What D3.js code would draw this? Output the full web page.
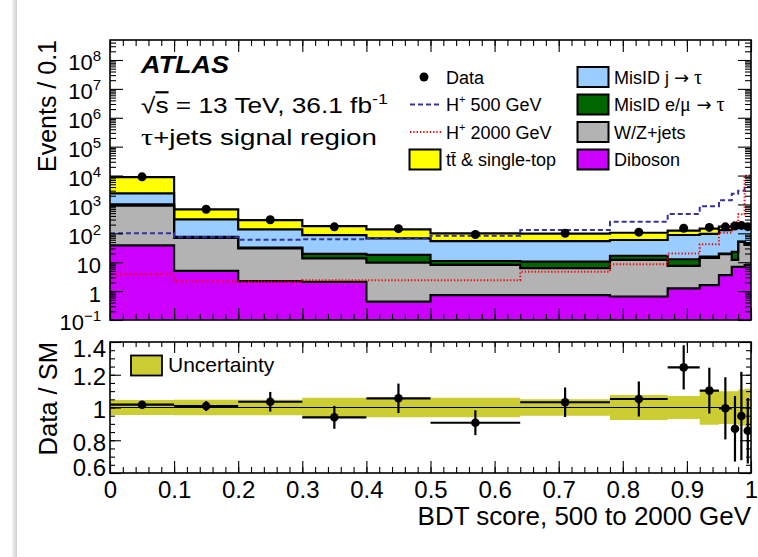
<!DOCTYPE html>
<html><head><meta charset="utf-8">
<script src="https://cdn.jsdelivr.net/npm/d3@7"></script>
<style>
body{margin:0;background:#fff}
svg{display:block}
text{font-family:"Liberation Sans",Arial,Helvetica,sans-serif;fill:#000}
</style>
</head><body>
<svg id="c" width="758" height="557"></svg>
<script>
// ---------------- data ----------------
const binEdges = [0, 0.1, 0.2, 0.3, 0.4, 0.5, 0.64, 0.78, 0.87, 0.92, 0.95, 0.97, 0.98, 0.99, 1.0];
// background components (events per bin)
const diboson = [38, 5.0, 2.2, 2.1, 0.43, 0.73, 0.73, 0.65, 1.25, 1.6, 3.6, 6.9, 6.9, 8];
const wzjets  = [862, 65, 27.8, 11.5, 9.2, 7.3, 5.5, 11.4, 6.2, 12.4, 15.4, 5.1, 44, 32];
const misidE  = [100, 6, 2, 5.9, 8.2, 3, 4.3, 4.7, 5.2, 1.5, 1, 11, 1, 5];
const misidJ  = [1400, 229, 106, 67.5, 49, 43, 43.5, 42, 75, 80.5, 110, 137, 108, 105];
const ttbar   = [6400, 375, 147, 91, 71, 46, 44, 46, 37, 49, 40, 45, 35, 40];
const dataEvents = [9000, 680, 295, 168, 145, 91, 101, 110, 150, 160, 168, 180, 188, 170];
const hp500  = [100, 73, 60, 62, 67, 82, 130, 250, 470, 870, 1400, 2350, 3000, 4000];
const hp2000 = [3.8, 2.2, 2.1, 2.4, 2.4, 2.4, 4.7, 8.5, 20, 42, 105, 240, 460, 10000];
// ratio panel
const ratioValues = [1.017, 1.009, 1.035, 0.94, 1.056, 0.907, 1.032, 1.052, 1.245, 1.103, 0.995, 0.87, 0.948, 0.858];
const ratioErrors = [0.012, 0.03, 0.06, 0.07, 0.09, 0.076, 0.09, 0.107, 0.135, 0.14, 0.19, 0.2, 0.27, 0.2];
const uncHalfWidth = [0.046, 0.047, 0.048, 0.06, 0.06, 0.06, 0.05, 0.076, 0.07, 0.105, 0.1, 0.1, 0.11, 0.115];
// ticks
const xMajorTicks = [0, 0.1, 0.2, 0.3, 0.4, 0.5, 0.6, 0.7, 0.8, 0.9, 1.0];
const xTickLabels = ["0", "0.1", "0.2", "0.3", "0.4", "0.5", "0.6", "0.7", "0.8", "0.9", "1"];
const yDecadeExps = [-1, 0, 1, 2, 3, 4, 5, 6, 7, 8];
const rMajorTicks = [0.6, 0.8, 1.0, 1.2, 1.4];
const rTickLabels = ["0.6", "0.8", "1", "1.2", "1.4"];

// ---------------- layout ----------------
const X0 = 110, X1 = 751, UT = 40, UB = 320, RT = 342, RB = 473;
const COL = {ttbar:"#ffff00", misidJ:"#99ccff", misidE:"#006600", wzjets:"#b3b3b3", diboson:"#cc00ff",
             unc:"#cccc33", h500:"#333399", h2000:"#ff0000"};
const FONT = '"Liberation Sans",Arial,Helvetica,sans-serif';
const SERIF = '"Liberation Serif","DejaVu Serif",serif';
const ARROW = '"DejaVu Sans",sans-serif';

const svg = d3.select("#c");
svg.append("rect").attr("width",758).attr("height",557).attr("fill","#fff");
const defs = svg.append("defs");
const lg = defs.append("linearGradient").attr("id","sh").attr("x1","0").attr("x2","1");
lg.append("stop").attr("offset","0").attr("stop-color","#f4f4f4");
lg.append("stop").attr("offset","1").attr("stop-color","#cfcfcf");
svg.append("rect").attr("x",12).attr("y",0).attr("width",5).attr("height",557).attr("fill","url(#sh)");
defs.append("clipPath").attr("id","cu").append("rect").attr("x",X0).attr("y",UT).attr("width",X1-X0).attr("height",UB-UT);
defs.append("clipPath").attr("id","cr").append("rect").attr("x",X0).attr("y",RT).attr("width",X1-X0).attr("height",RB-RT);

const x = d3.scaleLinear().domain([0,1]).range([X0,X1]);
const y = d3.scaleLog().domain([0.1, Math.pow(10,8.692)]).range([UB,UT]).clamp(true);
const yr = d3.scaleLinear().domain([0.6,1.4]).range([RB,RT]);

const nb = binEdges.length - 1;
const centers = d3.range(nb).map(i => (binEdges[i]+binEdges[i+1])/2);

function stepPts(lo, hi){
  const pts=[];
  for(let i=0;i<nb;i++){
    pts.push({e:binEdges[i], lo:lo[i], hi:hi[i]});
    pts.push({e:binEdges[i+1], lo:lo[i], hi:hi[i]});
  }
  return pts;
}

// ---------------- upper panel ----------------
const up = svg.append("g").attr("clip-path","url(#cu)");
const keys = ["diboson","wzjets","misidE","misidJ","ttbar"];
const comp = {diboson, wzjets, misidE, misidJ, ttbar};
const rows = d3.range(nb).map(i => { const r={}; keys.forEach(k=>r[k]=comp[k][i]); return r; });
const series = d3.stack().keys(keys)(rows);

const area = d3.area().x(p=>x(p.e)).y0(p=>y(Math.max(p.lo,0.1))).y1(p=>y(Math.max(p.hi,0.1)));
const lineHi = d3.line().x(p=>x(p.e)).y(p=>y(Math.max(p.hi,0.1)));

series.forEach(s=>{
  up.append("path").attr("d", area(stepPts(s.map(d=>d[0]), s.map(d=>d[1])))).attr("fill", COL[s.key]).attr("stroke","none");
});
series.forEach(s=>{
  const pts = stepPts(s.map(d=>d[0]), s.map(d=>d[1]));
  up.append("path").attr("d", lineHi(pts)).attr("fill","none").attr("stroke","#000").attr("stroke-width",2.2);
});
up.append("path").attr("d", lineHi(stepPts(hp500,hp500))).attr("fill","none")
  .attr("stroke",COL.h500).attr("stroke-width",2).attr("stroke-dasharray","5,3");
up.append("path").attr("d", lineHi(stepPts(hp2000,hp2000))).attr("fill","none")
  .attr("stroke",COL.h2000).attr("stroke-width",2).attr("stroke-dasharray","1.3,2");
up.selectAll("circle.d").data(dataEvents).enter().append("circle")
  .attr("cx",(d,i)=>x(centers[i])).attr("cy",d=>y(d)).attr("r",4.5).attr("fill","#000");

// ---------------- ratio panel ----------------
const rp = svg.append("g").attr("clip-path","url(#cr)");
const bandArea = d3.area().x(p=>x(p.e)).y0(p=>yr(1-p.hi)).y1(p=>yr(1+p.hi));
rp.append("path").attr("d", bandArea(stepPts(uncHalfWidth,uncHalfWidth))).attr("fill",COL.unc);
rp.append("line").attr("x1",X0).attr("x2",X1).attr("y1",yr(1)).attr("y2",yr(1)).attr("stroke","#000").attr("stroke-width",1.2);
const rg = rp.selectAll("g.pt").data(ratioValues).enter().append("g");
rg.append("line").attr("x1",(d,i)=>x(binEdges[i])).attr("x2",(d,i)=>x(binEdges[i+1]))
  .attr("y1",d=>yr(d)).attr("y2",d=>yr(d)).attr("stroke","#000").attr("stroke-width",2.2);
rg.append("line").attr("x1",(d,i)=>x(centers[i])).attr("x2",(d,i)=>x(centers[i]))
  .attr("y1",(d,i)=>yr(d-ratioErrors[i])).attr("y2",(d,i)=>yr(d+ratioErrors[i])).attr("stroke","#000").attr("stroke-width",2.2);
rg.append("circle").attr("cx",(d,i)=>x(centers[i])).attr("cy",d=>yr(d)).attr("r",4.3).attr("fill","#000");

// ---------------- axes ----------------
function minorLin(a,b,step){ const r=[]; for(let v=a; v<=b+1e-9; v+=step) r.push(+v.toFixed(4)); return r; }
const xMinor = minorLin(0,1,0.02);
const logMinor = [];
for(let e=-1;e<=8;e++) for(let k=2;k<=9;k++){ const v=k*Math.pow(10,e); if(v<Math.pow(10,8.692)) logMinor.push(v); }
const rMinor = minorLin(0.6,1.4,0.05);

function addAxis(gen, tr, vals, size){
  const g = svg.append("g").attr("transform",tr)
    .call(gen.tickValues(vals).tickSize(size).tickSizeOuter(0).tickFormat(""));
  g.select(".domain").remove();
  g.selectAll(".tick line").attr("stroke","#000").attr("stroke-width",1.1);
  return g;
}
addAxis(d3.axisBottom(x), `translate(0,${UB})`, xMajorTicks, -12);
addAxis(d3.axisBottom(x), `translate(0,${UB})`, xMinor, -6);
addAxis(d3.axisTop(x), `translate(0,${UT})`, xMajorTicks, -12);
addAxis(d3.axisTop(x), `translate(0,${UT})`, xMinor, -6);
const decades = yDecadeExps.map(e=>Math.pow(10,e));
addAxis(d3.axisLeft(y), `translate(${X0},0)`, decades, -13);
addAxis(d3.axisLeft(y), `translate(${X0},0)`, logMinor, -6);
addAxis(d3.axisRight(y), `translate(${X1},0)`, decades, -13);
addAxis(d3.axisRight(y), `translate(${X1},0)`, logMinor, -6);
addAxis(d3.axisBottom(x), `translate(0,${RB})`, xMajorTicks, -12);
addAxis(d3.axisBottom(x), `translate(0,${RB})`, xMinor, -6);
addAxis(d3.axisTop(x), `translate(0,${RT})`, xMajorTicks, -11);
addAxis(d3.axisTop(x), `translate(0,${RT})`, xMinor, -5);
addAxis(d3.axisLeft(yr), `translate(${X0},0)`, rMajorTicks, -11);
addAxis(d3.axisLeft(yr), `translate(${X0},0)`, rMinor, -5);
addAxis(d3.axisRight(yr), `translate(${X1},0)`, rMajorTicks, -11);
addAxis(d3.axisRight(yr), `translate(${X1},0)`, rMinor, -5);

svg.append("rect").attr("x",X0).attr("y",UT).attr("width",X1-X0).attr("height",UB-UT).attr("fill","none").attr("stroke","#000").attr("stroke-width",1.6);
svg.append("rect").attr("x",X0).attr("y",RT).attr("width",X1-X0).attr("height",RB-RT).attr("fill","none").attr("stroke","#000").attr("stroke-width",1.6);

// tick labels: x (ratio bottom)
const xl = svg.append("g").attr("transform",`translate(0,${RB})`)
  .call(d3.axisBottom(x).tickValues(xMajorTicks).tickSize(0).tickPadding(8).tickFormat((d,i)=>xTickLabels[i]));
xl.select(".domain").remove();
xl.selectAll("text").attr("font-size",24).attr("font-family",FONT).attr("fill","#000");

// ratio y labels
const yl = svg.append("g").attr("transform",`translate(${X0},0)`)
  .call(d3.axisLeft(yr).tickValues(rMajorTicks).tickSize(0).tickPadding(4).tickFormat((d,i)=>rTickLabels[i]));
yl.select(".domain").remove();
yl.selectAll("text").attr("font-size",24).attr("font-family",FONT).attr("fill","#000").attr("dy","0.42em");
yl.selectAll(".tick").filter(d=>d===1.4).select("text").attr("dy","0.6em");
yl.selectAll(".tick").filter(d=>d===0.6).select("text").attr("dy","0.12em");

// upper log labels with superscripts
const ul = svg.append("g").attr("transform",`translate(${X0},0)`)
  .call(d3.axisLeft(y).tickValues(decades).tickSize(0).tickPadding(9).tickFormat(""));
ul.select(".domain").remove();
ul.selectAll(".tick text").each(function(d,i){
  const t = d3.select(this).attr("font-size",22).attr("font-family",FONT).attr("fill","#000").attr("dy","0.45em");
  const e = yDecadeExps[i];
  if(e===0){ t.text("1"); }
  else if(e===1){ t.text("10"); }
  else { t.text("10"); t.append("tspan").attr("font-size",15).attr("dy","-0.6em").text(e<0?"\u2212"+(-e):String(e)); }
});

// axis titles
svg.append("text").attr("transform",`translate(56,${UT}) rotate(-90)`).attr("text-anchor","end")
  .attr("font-size",25).text("Events / 0.1");
svg.append("text").attr("transform",`translate(57,${RT}) rotate(-90)`).attr("text-anchor","end")
  .attr("font-size",25.5).text("Data / SM");
svg.append("text").attr("x",X1).attr("y",525).attr("text-anchor","end").attr("font-size",26)
  .text("BDT score, 500 to 2000 GeV");

// ATLAS labels
svg.append("text").attr("x",141).attr("y",73).attr("font-size",24).attr("font-weight","bold").attr("font-style","italic")
  .attr("textLength",88).attr("lengthAdjust","spacingAndGlyphs").text("ATLAS");
function fitWidth(sel, target){
  const w = sel.node().getBBox().width;
  const x0 = +sel.attr("x");
  sel.attr("transform",`translate(${x0},0) scale(${target/w},1) translate(${-x0},0)`);
}
const l1 = svg.append("text").attr("x",141).attr("y",113).attr("font-size",22);
l1.append("tspan").text("\u221A");
l1.append("tspan").attr("text-decoration","overline").style("text-decoration","overline").text("s");
l1.append("tspan").text(" = 13 TeV, 36.1 fb");
l1.append("tspan").attr("font-size",15).attr("dy",-9).text("-1");
fitWidth(l1, 247);
const l2 = svg.append("text").attr("x",141).attr("y",145).attr("font-size",22);
l2.append("tspan").attr("font-family",SERIF).attr("font-size",24).text("\u03C4");
l2.append("tspan").text("+jets signal region");
fitWidth(l2, 236);

// ---------------- legends ----------------
const LF = 18;
const leg = svg.append("g");
const rowY = [77, 104.5, 132, 159.5];
leg.append("circle").attr("cx",424).attr("cy",rowY[0]).attr("r",4.5).attr("fill","#000");
leg.append("text").attr("x",446).attr("y",rowY[0]+6.5).attr("font-size",LF).text("Data");
leg.append("line").attr("x1",410).attr("x2",441).attr("y1",rowY[1]).attr("y2",rowY[1]).attr("stroke",COL.h500).attr("stroke-width",2).attr("stroke-dasharray","5,3");
const t500 = leg.append("text").attr("x",446).attr("y",rowY[1]+6.5).attr("font-size",LF);
t500.append("tspan").text("H"); t500.append("tspan").attr("font-size",11).attr("dy",-8).text("+");
t500.append("tspan").attr("dy",8).text(" 500 GeV");
leg.append("line").attr("x1",410).attr("x2",441).attr("y1",rowY[2]).attr("y2",rowY[2]).attr("stroke",COL.h2000).attr("stroke-width",2).attr("stroke-dasharray","1.3,2");
const t2000 = leg.append("text").attr("x",446).attr("y",rowY[2]+6.5).attr("font-size",LF);
t2000.append("tspan").text("H"); t2000.append("tspan").attr("font-size",11).attr("dy",-8).text("+");
t2000.append("tspan").attr("dy",8).text(" 2000 GeV");
leg.append("rect").attr("x",409.5).attr("y",rowY[3]-10).attr("width",31).attr("height",20).attr("fill",COL.ttbar).attr("stroke","#000").attr("stroke-width",2);
leg.append("text").attr("x",446).attr("y",rowY[3]+6.5).attr("font-size",LF).text("tt\u0304 & single-top");
const col2 = [
  {k:"misidJ", parts:[["MisID j ",FONT,LF],["\u2192",ARROW,18],[" \u03C4",SERIF,20]]},
  {k:"misidE", parts:[["MisID e/",FONT,LF],["\u03BC",SERIF,20],[" \u2192",ARROW,18],[" \u03C4",SERIF,20]]},
  {k:"wzjets", parts:[["W/Z+jets",FONT,LF]]},
  {k:"diboson", parts:[["Diboson",FONT,LF]]}
];
col2.forEach((c,i)=>{
  leg.append("rect").attr("x",577.5).attr("y",rowY[i]-10).attr("width",31).attr("height",20).attr("fill",COL[c.k]).attr("stroke","#000").attr("stroke-width",2);
  const t = leg.append("text").attr("x",614).attr("y",rowY[i]+6.5).attr("font-size",LF);
  c.parts.forEach(p=>t.append("tspan").attr("font-family",p[1]).attr("font-size",p[2]).text(p[0]));
});
leg.append("rect").attr("x",131).attr("y",355.5).attr("width",31).attr("height",20).attr("fill",COL.unc).attr("stroke","#000").attr("stroke-width",1.8);
leg.append("text").attr("x",168).attr("y",372).attr("font-size",21).text("Uncertainty");
</script>
</body></html>
